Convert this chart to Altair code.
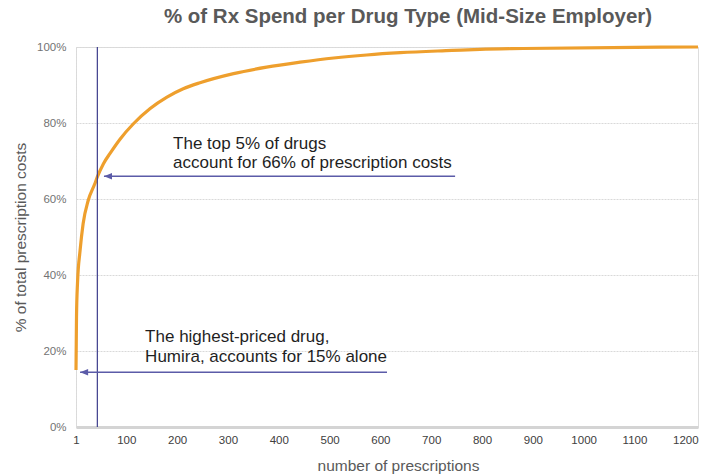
import altair as alt
import pandas as pd

# ---- data ----
curve_x = [1, 1.5, 2, 4, 9, 15, 25, 38, 43, 55, 68, 88, 114, 147, 180, 212, 245,
           311, 376, 442, 508, 573, 639, 741, 796, 881, 1101, 1225]
curve_y = [15, 22, 29, 38, 46.4, 53.5, 59.6, 64, 65.8, 69.3, 72, 75.8, 79.8, 83.8,
           86.8, 89.0, 90.6, 93.0, 94.7, 96.0, 97.1, 97.9, 98.5, 99.1, 99.4, 99.6,
           99.9, 100]

x_ticks = [1, 100, 200, 300, 400, 500, 600, 700, 800, 900, 1000, 1100, 1200]
y_ticks = [0, 20, 40, 60, 80, 100]

marker_x = [43]                      # "top 5%" vertical line

arrow_x_start = [56, 9]              # arrow tips
arrow_x_end = [747, 613]
arrow_y = [66, 14.4]
arrow_head_x = [64, 17]

text_lines = ["The top 5% of drugs", "account for 66% of prescription costs",
              "The highest-priced drug,", "Humira, accounts for 15% alone"]
text_x = [192, 192, 137, 137]
text_y = [74.6, 69.6, 23.6, 18.4]

curve = pd.DataFrame({"x": curve_x, "y": curve_y})
arrows = pd.DataFrame({"x": arrow_x_start, "x2": arrow_x_end, "y": arrow_y, "hx": arrow_head_x})
texts = pd.DataFrame({"x": text_x, "y": text_y, "t": text_lines})
marker = pd.DataFrame({"x": marker_x, "y0": [0], "y1": [100]})

XS = alt.Scale(domain=[1, 1225], nice=False, zero=False)
YS = alt.Scale(domain=[0, 100], nice=False)

x_axis = alt.Axis(values=x_ticks, format="d", grid=False, ticks=False, tickSize=0,
                  labelPadding=7, domainColor="#d4d4d4", domainWidth=3,
                  labelColor="#404040", labelFontSize=11.5, labelFont="Liberation Sans",
                  title="number of prescriptions", titleFont="Liberation Sans",
                  titleFontSize=15.5, titleFontWeight="normal", titleColor="#595959",
                  titleX=322, titleY=38, titleBaseline="middle", labelFlush=False)
y_axis = alt.Axis(values=y_ticks, labelExpr="datum.value + '%'", grid=True,
                  gridColor="#d9d9d9", gridDash=[2, 1], ticks=False, tickSize=0,
                  labelPadding=10, domainColor="#d9d9d9", domainDash=[2, 1],
                  labelColor="#737373", labelFontSize=11.5, labelFont="Liberation Sans",
                  title="% of total prescription costs", titleFont="Liberation Sans",
                  titleFontSize=15.5, titleFontWeight="normal", titleColor="#595959",
                  titleX=-56, titleBaseline="middle")

def X(field):
    return alt.X(field, type="quantitative", scale=XS, axis=x_axis)

def Y(field):
    return alt.Y(field, type="quantitative", scale=YS, axis=y_axis)

line = alt.Chart(curve).mark_line(color="#EE9F2D", strokeWidth=3.2,
                                  interpolate="monotone").encode(x=X("x"), y=Y("y"))

vrule = alt.Chart(marker).mark_rule(color="#3D3D8C", strokeWidth=1.2).encode(
    x=X("x"), y=Y("y0"), y2="y1")

arrow_lines = alt.Chart(arrows).mark_rule(color="#5B5BA8", strokeWidth=1.5).encode(
    x=X("x"), x2="x2", y=Y("y"))

arrow_heads = alt.Chart(arrows).mark_point(shape="M-1,0L1,-0.8L1,0.8Z", filled=True,
                                           color="#5B5BA8", size=64, opacity=1).encode(
    x=X("hx"), y=Y("y"))

labels = alt.Chart(texts).mark_text(align="left", baseline="middle", fontSize=17,
                                    font="Liberation Sans", color="#1f1f1f").encode(
    x=X("x"), y=Y("y"), text="t")

chart = alt.layer(line, vrule, arrow_lines, arrow_heads, labels).properties(
    width=622, height=380,
    padding={"left": 76, "top": 47, "right": 11, "bottom": 47},
    autosize=alt.AutoSizeParams(type="none"),
    title=alt.TitleParams("% of Rx Spend per Drug Type (Mid-Size Employer)",
                          font="Liberation Sans", fontSize=20.5, fontWeight="bold",
                          color="#595959", anchor="middle", dx=21, offset=13),
).configure_view(strokeWidth=0).configure(background="white")

chart.save("out.html", embed_options={"renderer": "svg", "actions": False})
